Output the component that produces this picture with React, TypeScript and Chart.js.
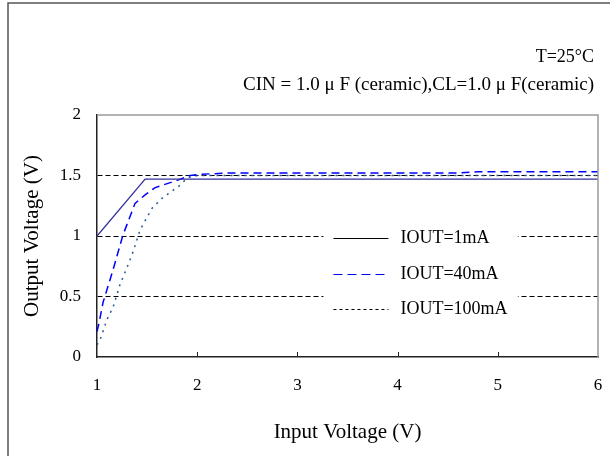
import React, { useEffect, useRef } from "react";
import { Chart, registerables } from "chart.js";

Chart.register(...registerables);

// ---- data ----
const vin1mA = [1.0, 1.48, 6.0];
const vout1mA = [1.0, 1.47, 1.47];

const vin40mA = [1.0, 1.02, 1.06, 1.16, 1.26, 1.38, 1.48, 1.58, 1.8, 1.93, 2.03, 2.3, 3.0, 4.0, 4.6, 4.8, 5.1, 6.0];
const vout40mA = [0.21, 0.28, 0.45, 0.72, 1.01, 1.27, 1.34, 1.4, 1.46, 1.5, 1.51, 1.52, 1.52, 1.52, 1.52, 1.53, 1.53, 1.53];

const vin100mA = [1.0, 1.03, 1.1, 1.16, 1.23, 1.3, 1.36, 1.43, 1.55, 1.66, 1.73, 1.83, 1.9, 2.0, 6.0];
const vout100mA = [0.1, 0.14, 0.31, 0.41, 0.6, 0.74, 0.87, 1.05, 1.23, 1.32, 1.36, 1.42, 1.48, 1.5, 1.5];

const seriesLabels = ["IOUT=1mA", "IOUT=40mA", "IOUT=100mA"];
const xTicks = [1, 2, 3, 4, 5, 6];
const yTicks = [0, 0.5, 1, 1.5, 2];
const noteLines = ["T=25°C", "CIN = 1.0 μ F (ceramic),CL=1.0 μ F(ceramic)"];
const xTitle = "Input Voltage (V)";
const yTitle = "Output Voltage (V)";

const FONT = "'Liberation Serif', 'Times New Roman', serif";

const toPoints = (xs: number[], ys: number[]) => xs.map((x, i) => ({ x, y: ys[i] }));

const legendStyles = [
  { color: "#000000", dash: [] as number[] },
  { color: "#0000ff", dash: [9, 5] },
  { color: "#000000", dash: [3, 3] },
];

const decorPlugin = {
  id: "decor",
  beforeDraw(chart: any) {
    const ctx = chart.ctx;
    ctx.save();
    ctx.fillStyle = "#ffffff";
    ctx.fillRect(0, 0, chart.width, chart.height);
    // outer frame
    ctx.strokeStyle = "#555555";
    ctx.lineWidth = 1.5;
    ctx.beginPath();
    ctx.moveTo(8, chart.height);
    ctx.lineTo(8, 3);
    ctx.lineTo(chart.width, 3);
    ctx.stroke();
    ctx.restore();
  },
  afterDatasetsDraw(chart: any) {
    const ctx = chart.ctx;
    const a = chart.chartArea;
    const xs = chart.scales.x;
    ctx.save();
    // top & right frame of plot area
    ctx.strokeStyle = "#9a9a9a";
    ctx.lineWidth = 1.5;
    ctx.beginPath();
    ctx.moveTo(a.left, a.top);
    ctx.lineTo(a.right, a.top);
    ctx.lineTo(a.right, a.bottom);
    ctx.stroke();
    // inward x tick marks
    ctx.strokeStyle = "#222222";
    ctx.lineWidth = 1;
    ctx.beginPath();
    xTicks.slice(1, -1).forEach((v) => {
      const px = Math.round(xs.getPixelForValue(v)) + 0.5;
      ctx.moveTo(px, a.bottom);
      ctx.lineTo(px, a.bottom - 5);
    });
    ctx.stroke();

    // notes above the plot
    ctx.fillStyle = "#000";
    ctx.textAlign = "right";
    ctx.textBaseline = "middle";
    ctx.font = `18px ${FONT}`;
    ctx.fillText(noteLines[0], a.right - 4, a.top - 58);
    ctx.font = `19px ${FONT}`;
    ctx.fillText(noteLines[1], a.right - 4, a.top - 30);

    // legend inside plot
    const lx = xs.getPixelForValue(3.26);
    const lw = xs.getPixelForValue(5.2) - lx;
    const ys = chart.scales.y;
    const top = ys.getPixelForValue(1.15);
    const bottom = ys.getPixelForValue(0.29);
    ctx.fillStyle = "#ffffff";
    ctx.fillRect(lx, top, lw, bottom - top);
    const rowY = [ys.getPixelForValue(0.98), ys.getPixelForValue(0.69), ys.getPixelForValue(0.4)];
    chart.data.datasets.forEach((ds: any, i: number) => {
      const y = Math.round(rowY[i]) + 0.5;
      const st = legendStyles[i];
      ctx.strokeStyle = st.color;
      ctx.lineWidth = 1.2;
      ctx.setLineDash(st.dash);
      ctx.beginPath();
      ctx.moveTo(lx + 10, y);
      ctx.lineTo(lx + 65, y);
      ctx.stroke();
      ctx.setLineDash([]);
      ctx.fillStyle = "#000";
      ctx.font = `18px ${FONT}`;
      ctx.textAlign = "left";
      ctx.textBaseline = "middle";
      ctx.fillText(ds.label, lx + 77, y);
    });
    ctx.restore();
  },
};

export default function App() {
  const ref = useRef<HTMLCanvasElement | null>(null);
  useEffect(() => {
    if (!ref.current) return;
    const chart = new Chart(ref.current, {
      type: "line",
      data: {
        datasets: [
          {
            label: seriesLabels[0],
            data: toPoints(vin1mA, vout1mA),
            borderColor: "#33339a",
            borderWidth: 1.3,
            pointRadius: 0,
            tension: 0,
          },
          {
            label: seriesLabels[1],
            data: toPoints(vin40mA, vout40mA),
            borderColor: "#0000ff",
            borderWidth: 1.5,
            borderDash: [8, 5],
            pointRadius: 0,
            tension: 0,
          },
          {
            label: seriesLabels[2],
            data: toPoints(vin100mA, vout100mA),
            borderColor: "#2a5a90",
            borderWidth: 1.5,
            borderDash: [2, 5],
            pointRadius: 0,
            tension: 0,
          },
        ],
      },
      options: {
        responsive: false,
        animation: false,
        layout: { padding: { top: 115, right: 12, left: 0, bottom: 0 } },
        plugins: { legend: { display: false }, tooltip: { enabled: false }, title: { display: false } },
        scales: {
          x: {
            type: "linear",
            min: 1,
            max: 6,
            afterFit: (s: any) => {
              s.height = 99;
              s.paddingLeft = 0;
              s.paddingRight = 0;
            },
            afterBuildTicks: (s: any) => {
              s.ticks = xTicks.map((v) => ({ value: v }));
            },
            ticks: { color: "#000", font: { family: FONT, size: 17 }, padding: 10, maxRotation: 0 },
            grid: { display: false },
            border: { display: true, color: "#222", width: 1.5 },
            title: {
              display: true,
              text: xTitle,
              color: "#000",
              font: { family: FONT, size: 21 },
              padding: { top: 0, bottom: 11 },
            },
          },
          y: {
            type: "linear",
            min: 0,
            max: 2,
            afterFit: (s: any) => {
              s.width = 97;
              s.paddingTop = 0;
              s.paddingBottom = 0;
            },
            afterBuildTicks: (s: any) => {
              s.ticks = yTicks.map((v) => ({ value: v }));
            },
            ticks: {
              color: "#000",
              font: { family: FONT, size: 17 },
              padding: 16,
              callback: (v: any) => String(v),
            },
            grid: {
              drawTicks: false,
              color: (c: any) => {
                const v = c.tick ? c.tick.value : null;
                return v === 0.5 || v === 1 || v === 1.5 ? "#000" : "rgba(0,0,0,0)";
              },
              lineWidth: 1,
            },
            border: { display: true, color: "#222", width: 1.5, dash: [5, 3] },
            title: {
              display: true,
              text: yTitle,
              color: "#000",
              font: { family: FONT, size: 21 },
              padding: { top: 20, bottom: 0 },
            },
          },
        },
      },
      plugins: [decorPlugin],
    } as any);
    return () => chart.destroy();
  }, []);
  return (
    <div style={{ position: "absolute", left: 0, top: 0, width: 610, height: 456 }}>
      <canvas ref={ref} width={610} height={456} style={{ display: "block" }} />
    </div>
  );
}
